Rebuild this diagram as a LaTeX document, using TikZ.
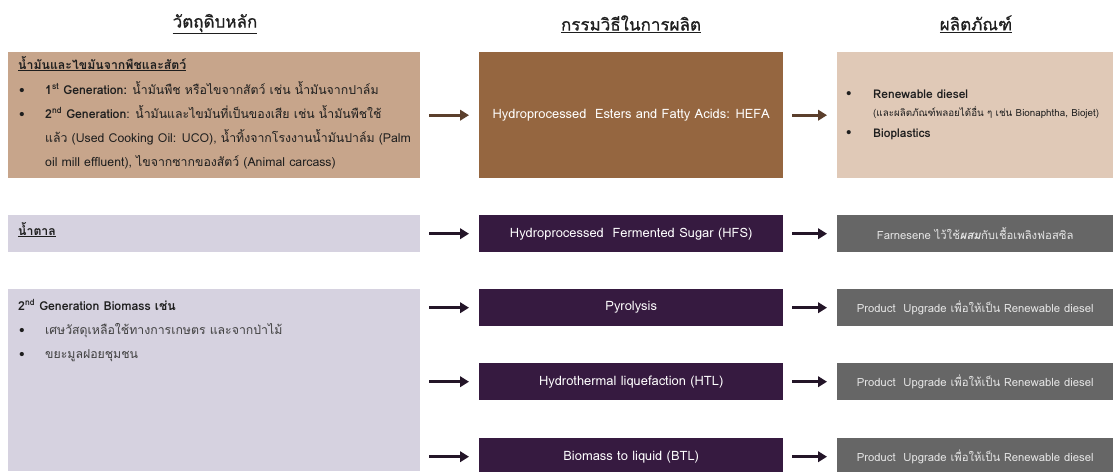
\documentclass[tikz,border=0pt]{standalone}
\usepackage{fontspec}
\setmainfont[Script=Thai]{Loma}
\newfontfamily\headfont[Script=Thai,FakeBold=0.8]{Loma}
\usetikzlibrary{arrows.meta}
\definecolor{rawtan}{HTML}{C7A58B}
\definecolor{hefabrown}{HTML}{956640}
\definecolor{prodtan}{HTML}{E0C9B7}
\definecolor{rawlav}{HTML}{D6D2E0}
\definecolor{procpurple}{HTML}{361A40}
\definecolor{prodgray}{HTML}{666666}
\definecolor{arrbrown}{HTML}{5B3F2C}
\definecolor{arrpurple}{HTML}{231528}
\definecolor{ink}{HTML}{1E1E1E}
\begin{document}
\begin{tikzpicture}[x=1pt,y=-1pt,
  box/.style={rectangle,inner sep=0pt,anchor=north west},
  head/.style={font=\headfont\fontsize{17}{19}\selectfont,text=ink},
  body/.style={font=\fontsize{12.3}{24}\selectfont,text=ink,anchor=base west,inner sep=0pt,align=left},
  small/.style={body,font=\fontsize{12}{14}\selectfont},
  proc/.style={text=white,font=\fontsize{12.9}{15}\selectfont},
  prod/.style={text=white!90!black,font=\fontsize{11.3}{13}\selectfont},
  arr/.style={line width=2.6pt,-{Triangle[length=9pt,width=10.5pt]},shorten <=9pt,shorten >=10pt}
]
\useasboundingbox (0,0) rectangle (1113,471);

% column headings
\node[head] (h1) at (215,24) {\underline{วัตถุดิบหลัก}};
\node[head] (h2) at (631,24) {\underline{กรรมวิธีในการผลิต}};
\node[head] (h3) at (976,24) {\underline{ผลิตภัณฑ์}};

% raw material boxes
\fill[rawtan] (8,52) rectangle (420,178);
\node[box,minimum width=412pt,minimum height=126pt] (oil) at (8,52) {};
\fill[rawlav] (8,215) rectangle (420,252);
\node[box,minimum width=412pt,minimum height=37pt] (sugar) at (8,215) {};
\fill[rawlav] (8,289) rectangle (420,471);
\node[box,minimum width=412pt,minimum height=182pt] (bio) at (8,289) {};

% process boxes
\node[box,fill=hefabrown,minimum width=304pt,minimum height=126pt] (hefa) at (479,52) {};
\node[proc] (hefat) at (hefa.center) {Hydroprocessed\ \ Esters and Fatty Acids: HEFA};
\node[box,fill=procpurple,minimum width=304pt,minimum height=37pt] (hfs) at (479,215) {};
\node[proc] (hfst) at (hfs.center) {Hydroprocessed\ \ Fermented Sugar (HFS)};
\node[box,fill=procpurple,minimum width=304pt,minimum height=37pt] (pyro) at (479,289) {};
\node[proc] (pyrot) at (pyro.center) {Pyrolysis};
\node[box,fill=procpurple,minimum width=304pt,minimum height=37pt] (htl) at (479,363) {};
\node[proc] (htlt) at (htl.center) {Hydrothermal liquefaction (HTL)};
\node[box,fill=procpurple,minimum width=304pt,minimum height=37pt] (btl) at (479,438) {};
\node[proc] (btlt) at (btl.center) {Biomass to liquid (BTL)};

% product boxes
\node[box,fill=prodtan,minimum width=276pt,minimum height=126pt] (pr1) at (837,52) {};
\node[box,fill=prodgray,minimum width=276pt,minimum height=37pt] (pr2) at (837,215) {};
\node[prod] (pr2t) at (pr2.center) {Farnesene ไว้ใช้\textbf{\textit{ผสม}}กับเชื้อเพลิงฟอสซิล};
\node[box,fill=prodgray,minimum width=276pt,minimum height=37pt] (pr3) at (837,289) {};
\node[prod] (pr3t) at (pr3.center) {Product\ \ Upgrade เพื่อให้เป็น Renewable diesel};
\node[box,fill=prodgray,minimum width=276pt,minimum height=37pt] (pr4) at (837,363) {};
\node[prod] (pr4t) at (pr4.center) {Product\ \ Upgrade เพื่อให้เป็น Renewable diesel};
\node[box,fill=prodgray,minimum width=276pt,minimum height=37pt] (pr5) at (837,438) {};
\node[prod] (pr5t) at (pr5.center) {Product\ \ Upgrade เพื่อให้เป็น Renewable diesel};

% text of the oil and fat box
\node[body] (oilT) at (18,69) {\textbf{\underline{น้ำมันและไขมันจากพืชและสัตว์}}};
\node[body] (oilB1) at (19,94) {•};
\node[body] (oilL1) at (45,94) {\textbf{1\textsuperscript{st} Generation:} น้ำมันพืช หรือไขจากสัตว์ เช่น น้ำมันจากปาล์ม};
\node[body] (oilB2) at (19,118) {•};
\node[body] (oilL2a) at (45,118) {\textbf{2\textsuperscript{nd} Generation}: น้ำมันและไขมันที่เป็นของเสีย เช่น น้ำมันพืชใช้};
\node[body] (oilL2b) at (45,142) {แล้ว (Used Cooking Oil: UCO), น้ำทิ้งจากโรงงานน้ำมันปาล์ม (Palm};
\node[body] (oilL2c) at (45,166) {oil mill effluent), ไขจากซากของสัตว์ (Animal carcass)};

% text of the sugar box
\node[body] (sugT) at (18,235) {\textbf{\underline{น้ำตาล}}};

% text of the biomass box
\node[body] (bioT) at (18,310) {\textbf{2\textsuperscript{nd} Generation Biomass เช่น}};
\node[body] (bioB1) at (19,334) {•};
\node[body,text=ink!85] (bioL1) at (45,334) {เศษวัสดุเหลือใช้ทางการเกษตร และจากป่าไม้};
\node[body] (bioB2) at (19,358) {•};
\node[body,text=ink!85] (bioL2) at (45,358) {ขยะมูลฝอยชุมชน};

% text of the first product box
\node[small] (p1B1) at (846,97) {•};
\node[small] (p1L1) at (873,98) {\textbf{Renewable diesel}};
\node[body,font=\fontsize{9.8}{11}\selectfont] (p1S) at (873,116) {(และผลิตภัณฑ์พลอยได้อื่น ๆ เช่น Bionaphtha, Biojet)};
\node[small] (p1B2) at (846,136) {•};
\node[small] (p1L2) at (873,137) {\textbf{Bioplastics}};

% connectors
\draw[arr,arrbrown] (oil.east) -- (hefa.west);
\draw[arr,arrbrown] (hefa.east) -- (pr1.west);
\draw[arr,arrpurple] (sugar.east) -- (hfs.west);
\draw[arr,arrpurple] (hfs.east) -- (pr2.west);
\draw[arr,arrpurple] (bio.east |- pyro.west) -- (pyro.west);
\draw[arr,arrpurple] (pyro.east) -- (pr3.west);
\draw[arr,arrpurple] (bio.east |- htl.west) -- (htl.west);
\draw[arr,arrpurple] (htl.east) -- (pr4.west);
\draw[arr,arrpurple] (bio.east |- btl.west) -- (btl.west);
\draw[arr,arrpurple] (btl.east) -- (pr5.west);
\end{tikzpicture}
\end{document}
